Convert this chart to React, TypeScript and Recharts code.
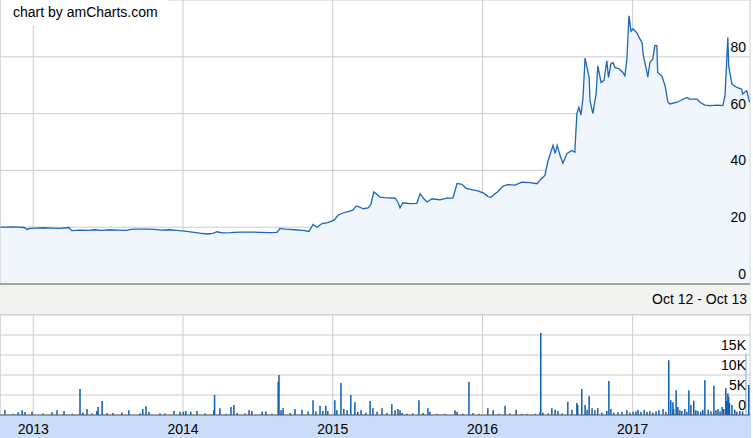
import React from 'react';
import { AreaChart, Area, BarChart, Bar, XAxis, YAxis, CartesianGrid, ReferenceLine } from 'recharts';

const rangeStart = '2012-10-12';
const rangeEnd = '2017-10-14';
const rangeLabel = 'Oct 12 - Oct 13';
const creditText = 'chart by amCharts.com';
const yearTickDates = ['2013-01-01', '2014-01-01', '2015-01-01', '2016-01-01', '2017-01-01'];
const yearTickLabels = ['2013', '2014', '2015', '2016', '2017'];
const priceTicks = [0, 20, 40, 60, 80];
const volumeTicks = [0, 5000, 10000, 15000, 20000];
const volumeTickLabels = ['0', '5K', '10K', '15K', ''];

const priceDates = [
  '2012-10-12', '2012-10-26', '2012-11-10', '2012-11-25', '2012-12-10', '2012-12-17', '2012-12-24',
  '2013-01-08', '2013-01-25', '2013-02-15', '2013-03-07', '2013-03-24', '2013-03-29', '2013-04-05',
  '2013-04-24', '2013-05-14', '2013-05-31', '2013-06-17', '2013-07-06', '2013-07-26', '2013-08-14',
  '2013-09-01', '2013-09-30', '2013-10-24', '2013-11-10', '2013-11-29', '2013-12-16',
  '2014-01-06', '2014-01-23', '2014-02-11', '2014-02-28', '2014-03-15', '2014-03-25', '2014-04-06',
  '2014-04-26', '2014-05-20', '2014-06-13', '2014-07-08', '2014-08-01', '2014-08-18', '2014-08-25',
  '2014-09-07', '2014-10-01', '2014-10-25', '2014-11-04', '2014-11-14', '2014-11-24', '2014-12-06',
  '2014-12-20',
  '2015-01-04', '2015-01-14', '2015-01-26', '2015-02-07', '2015-02-19', '2015-02-27', '2015-03-06',
  '2015-03-16', '2015-03-28', '2015-04-04', '2015-04-11', '2015-04-19', '2015-04-26', '2015-05-08',
  '2015-06-02', '2015-06-09', '2015-06-14', '2015-06-21', '2015-07-08', '2015-07-25', '2015-08-02',
  '2015-08-11', '2015-08-19', '2015-08-31', '2015-09-19', '2015-10-06', '2015-10-21', '2015-10-31',
  '2015-11-12', '2015-11-22', '2015-12-06', '2015-12-21',
  '2016-01-05', '2016-01-14', '2016-01-22', '2016-01-29', '2016-02-08', '2016-02-20', '2016-03-03',
  '2016-03-20', '2016-04-06', '2016-04-26', '2016-05-13', '2016-05-23', '2016-06-01', '2016-06-09',
  '2016-06-21', '2016-06-26', '2016-07-01', '2016-07-08', '2016-07-15', '2016-07-25', '2016-08-06',
  '2016-08-13', '2016-08-18', '2016-08-23', '2016-08-28', '2016-09-02', '2016-09-07', '2016-09-12',
  '2016-09-17', '2016-09-19', '2016-09-26', '2016-10-04', '2016-10-08', '2016-10-16', '2016-10-23',
  '2016-10-30', '2016-11-03', '2016-11-09', '2016-11-14', '2016-11-19', '2016-11-29', '2016-12-08',
  '2016-12-13', '2016-12-18', '2016-12-23', '2016-12-28',
  '2017-01-02', '2017-01-11', '2017-01-19', '2017-01-24', '2017-01-27', '2017-02-05', '2017-02-07',
  '2017-02-12', '2017-02-19', '2017-02-24', '2017-03-01', '2017-03-03', '2017-03-13', '2017-03-21',
  '2017-03-28', '2017-04-02', '2017-04-19', '2017-05-13', '2017-05-20', '2017-06-07', '2017-06-14',
  '2017-06-26', '2017-07-08', '2017-07-28', '2017-08-09', '2017-08-14', '2017-08-21', '2017-08-23',
  '2017-08-31', '2017-09-12', '2017-09-24', '2017-09-26', '2017-10-06', '2017-10-13',
];
const priceValues = [
  20.0, 20.0, 20.1, 20.0, 19.9, 19.2, 19.6,
  19.7, 19.8, 19.7, 19.6, 19.8, 19.9, 18.8,
  19.0, 18.9, 19.1, 18.9, 19.1, 19.0, 18.9,
  19.3, 19.3, 19.2, 19.0, 19.1, 18.9,
  18.6, 18.3, 17.9, 17.6, 17.8, 18.4, 18.0,
  18.1, 18.3, 18.3, 18.2, 18.1, 18.2, 19.6,
  19.3, 19.1, 18.8, 18.5, 21.0, 20.0, 21.3,
  21.6,
  22.5, 24.2, 25.0, 25.5, 26.0, 27.5, 27.2,
  26.5, 26.8, 28.0, 32.4, 31.5, 30.6, 30.4,
  30.2, 28.8, 26.8, 28.6, 28.3, 28.4, 31.8,
  30.0, 28.9, 30.0, 29.6, 30.2, 30.3, 35.4,
  35.1, 33.7, 33.2, 32.8,
  31.9, 30.8, 30.5, 31.5, 32.6, 34.5, 35.0,
  34.8, 35.9, 35.7, 35.3, 37.0, 38.2, 43.5,
  48.8, 46.0, 48.8, 45.3, 42.5, 46.0, 47.0,
  46.4, 60.0, 62.2, 59.5, 65.6, 79.6, 76.1,
  72.6, 64.6, 60.0, 67.0, 76.8, 71.0, 71.6,
  78.6, 72.7, 77.5, 78.0, 76.2, 75.8, 74.5,
  73.3, 79.3, 94.4, 89.0,
  89.8, 88.5, 86.2, 85.0, 80.4, 74.5, 72.8,
  78.0, 79.2, 83.9, 83.9, 74.5, 73.3, 69.8,
  64.0, 63.4, 64.0, 65.7, 65.1, 65.1, 64.0,
  63.0, 62.8, 63.0, 62.8, 66.3, 86.8, 76.8,
  70.4, 69.2, 68.6, 66.9, 68.1, 64.0,
];

const volumeDates = [
  '2012-10-24', '2012-11-13', '2012-11-25', '2012-12-05', '2012-12-12', '2012-12-29',
  '2013-01-25', '2013-02-16', '2013-02-28', '2013-03-17', '2013-04-06', '2013-04-25', '2013-05-02',
  '2013-05-12', '2013-05-24', '2013-06-05', '2013-06-08', '2013-06-18', '2013-06-30', '2013-07-14',
  '2013-08-05', '2013-08-22', '2013-09-18', '2013-09-25', '2013-10-03', '2013-10-10', '2013-11-06',
  '2013-11-18', '2013-12-10', '2013-12-25',
  '2014-01-02', '2014-01-08', '2014-01-20', '2014-02-04', '2014-02-24', '2014-03-17', '2014-03-19',
  '2014-04-01', '2014-04-16', '2014-04-28', '2014-05-05', '2014-05-13', '2014-06-01', '2014-06-11',
  '2014-06-18', '2014-07-13', '2014-07-22', '2014-08-06', '2014-08-21', '2014-08-23', '2014-08-28',
  '2014-09-02', '2014-09-19', '2014-10-01', '2014-10-18', '2014-11-02', '2014-11-14', '2014-11-21',
  '2014-12-01', '2014-12-08', '2014-12-15', '2014-12-20',
  '2015-01-06', '2015-01-11', '2015-01-21', '2015-01-28', '2015-02-05', '2015-02-14', '2015-02-24',
  '2015-03-03', '2015-03-11', '2015-03-23', '2015-04-02', '2015-04-09', '2015-04-19', '2015-05-01',
  '2015-05-13', '2015-05-25', '2015-06-02', '2015-06-09', '2015-06-14', '2015-06-19', '2015-07-01',
  '2015-07-15', '2015-07-30', '2015-08-09', '2015-08-21', '2015-08-26', '2015-09-12', '2015-10-01',
  '2015-10-26', '2015-10-31', '2015-11-14', '2015-11-29', '2015-12-09', '2015-12-24',
  '2016-01-14', '2016-01-27', '2016-02-10', '2016-02-25', '2016-03-08', '2016-03-23', '2016-04-06',
  '2016-04-18', '2016-05-08', '2016-05-20', '2016-05-22', '2016-05-27', '2016-06-09', '2016-06-18',
  '2016-06-26', '2016-07-03', '2016-07-13', '2016-07-27', '2016-08-06', '2016-08-18', '2016-08-20',
  '2016-08-30', '2016-09-07', '2016-09-12', '2016-09-17', '2016-09-24', '2016-10-01', '2016-10-08',
  '2016-10-18', '2016-10-30', '2016-11-04', '2016-11-09', '2016-11-16', '2016-11-26', '2016-12-06',
  '2016-12-18', '2016-12-25',
  '2017-01-02', '2017-01-09', '2017-01-14', '2017-01-21', '2017-01-29', '2017-02-05', '2017-02-12',
  '2017-02-19', '2017-02-27', '2017-03-06', '2017-03-16', '2017-03-23', '2017-03-30', '2017-04-04',
  '2017-04-09', '2017-04-11', '2017-04-17', '2017-04-21', '2017-04-26', '2017-05-01', '2017-05-08',
  '2017-05-13', '2017-05-18', '2017-05-23', '2017-05-30', '2017-06-04', '2017-06-09', '2017-06-16',
  '2017-06-21', '2017-06-26', '2017-07-04', '2017-07-11', '2017-07-18', '2017-07-23', '2017-07-28',
  '2017-08-02', '2017-08-07', '2017-08-11', '2017-08-16', '2017-08-18', '2017-08-21', '2017-08-23',
  '2017-08-25', '2017-08-31', '2017-09-07', '2017-09-12', '2017-09-19', '2017-09-26', '2017-10-04',
  '2017-10-11',
];
const volumeValues = [
  1250, 300, 700, 1200, 750, 800,
  400, 700, 1200, 1000, 300, 6500, 600,
  1500, 400, 1000, 2000, 3500, 500, 500,
  600, 1200, 400, 1500, 2200, 800, 400,
  400, 1000, 800,
  800, 1000, 800, 1000, 400, 1200, 5000,
  1700, 300, 2000, 2500, 500, 400, 1200,
  1000, 900, 900, 300, 8300, 10000, 1200,
  1700, 500, 1500, 1300, 900, 3700, 900,
  2300, 1000, 2300, 1000,
  3700, 1200, 8000, 1500, 1200, 5000, 3200,
  800, 1200, 600, 3500, 1700, 800, 1700,
  500, 2700, 1200, 1500, 1200, 500, 300,
  400, 3700, 500, 1700, 800, 300, 300,
  1200, 800, 300, 8300, 500, 300,
  1700, 1200, 300, 2300, 400, 1300, 300,
  300, 300, 600, 20500, 600, 400, 1700,
  1300, 1000, 400, 3300, 1300, 3000, 2500,
  6500, 2500, 1300, 4700, 1700, 1200, 1700,
  600, 1000, 8500, 1500, 600, 700, 800,
  1200, 600,
  800, 900, 1300, 800, 1300, 800, 1000,
  600, 900, 1200, 1500, 800, 13700, 3700,
  3200, 1500, 6200, 2000, 1200, 1000, 1500,
  800, 6200, 2500, 3600, 1200, 1000, 800,
  1300, 8700, 1300, 900, 7300, 1200, 1500,
  900, 2000, 1500, 6700, 3500, 5400, 4600,
  3000, 2500, 1300, 800, 1000, 900, 15300,
  7500,
];
const volumeLightDates = ['2017-10-04'];

const toTime = (s: string) => {
  const [y, m, d] = s.split('-').map(Number);
  return Date.UTC(y, m - 1, d);
};

const xDomain = [toTime(rangeStart), toTime(rangeEnd)];
const yearTicks = yearTickDates.map(toTime);

const priceData = priceDates.map((d, i) => ({ t: toTime(d), price: priceValues[i] }));
const volumeData = volumeDates.map((d, i) => ({
  t: toTime(d),
  volume: volumeValues[i],
  light: volumeLightDates.includes(d),
}));

const FONT = '"Liberation Sans", Arial, sans-serif';
const BAR_W = 1.5;

const PriceTick = (props: any) => {
  const { y, payload } = props;
  return (
    <text x={746} y={y - 5} textAnchor="end" fontSize={14} fill="#000" fontFamily={FONT}>
      {payload.value}
    </text>
  );
};

const VolumeTick = (props: any) => {
  const { y, payload } = props;
  const idx = volumeTicks.indexOf(payload.value);
  return (
    <text x={746} y={y - 5} textAnchor="end" fontSize={14} fill="#000" fontFamily={FONT}>
      {volumeTickLabels[idx]}
    </text>
  );
};

const YearTick = (props: any) => {
  const { x, y, payload } = props;
  const idx = yearTicks.indexOf(payload.value);
  return (
    <text x={x} y={y + 19} textAnchor="middle" fontSize={14} fill="#000" fontFamily={FONT}>
      {yearTickLabels[idx]}
    </text>
  );
};

const VolumeBar = (props: any) => {
  const { x, y, width, height, payload } = props;
  if (!height || height <= 0) return null;
  const cx = x + width / 2;
  return (
    <rect
      x={cx - BAR_W / 2}
      y={y}
      width={BAR_W}
      height={height}
      fill={payload && payload.light ? '#9cc0e8' : '#0b5fb3'}
    />
  );
};

export default function App() {
  return (
    <div
      style={{
        position: 'absolute',
        left: 0,
        top: 0,
        width: 753,
        height: 438,
        background: '#fff',
        fontFamily: FONT,
        overflow: 'hidden',
      }}
    >
      <div style={{ position: 'absolute', left: 0, top: 0 }}>
        <AreaChart width={753} height={285} data={priceData} margin={{ top: 0, right: 3, bottom: 1, left: 0 }}>
          <CartesianGrid stroke="#cccccc" strokeWidth={1} />
          <XAxis
            type="number"
            dataKey="t"
            domain={xDomain}
            ticks={yearTicks}
            interval={0}
            allowDataOverflow
            hide
          />
          <YAxis
            orientation="right"
            mirror
            width={40}
            domain={[0, 100]}
            ticks={priceTicks}
            interval={0}
            axisLine={false}
            tickLine={false}
            tick={PriceTick}
          />
          <ReferenceLine x={xDomain[0]} stroke="#cccccc" />
          <Area
            type="linear"
            dataKey="price"
            stroke="#1767bd"
            strokeWidth={1.3}
            fill="#f1f6fc"
            fillOpacity={1}
            isAnimationActive={false}
            dot={false}
            activeDot={false}
          />
          <ReferenceLine y={0} stroke="#5a5a5a" strokeWidth={1.2} />
        </AreaChart>
      </div>

      <div
        style={{
          position: 'absolute',
          left: 2,
          top: 0,
          width: 165,
          height: 25,
          background: '#fff',
        }}
      >
        <div style={{ position: 'absolute', left: 11, top: 4, fontSize: 14, lineHeight: '16px', color: '#000', whiteSpace: 'nowrap' }}>
          {creditText}
        </div>
      </div>

      <div
        style={{
          position: 'absolute',
          left: 0,
          top: 285,
          width: 751,
          height: 29,
          background: '#f3f3f1',
          borderBottom: '1px solid #d2d2d2',
        }}
      >
        <div
          style={{
            position: 'absolute',
            right: 4,
            top: 6,
            fontSize: 14,
            lineHeight: '16px',
            color: '#000',
            whiteSpace: 'nowrap',
          }}
        >
          {rangeLabel}
        </div>
      </div>

      <div
        style={{
          position: 'absolute',
          left: 0,
          top: 415,
          width: 751,
          height: 23,
          background: '#c9dcf8',
        }}
      />

      <div style={{ position: 'absolute', left: 0, top: 315 }}>
        <BarChart width={753} height={123} data={volumeData} margin={{ top: 0, right: 3, bottom: 0, left: 0 }}>
          <CartesianGrid stroke="#cccccc" strokeWidth={1} />
          <XAxis
            type="number"
            dataKey="t"
            domain={xDomain}
            ticks={yearTicks}
            interval={0}
            allowDataOverflow
            height={23}
            tickSize={0}
            tickMargin={0}
            tickLine={false}
            axisLine={{ stroke: '#5a5a5a', strokeWidth: 1.2 }}
            tick={YearTick}
          />
          <YAxis
            orientation="right"
            mirror
            width={40}
            domain={[0, 25000]}
            ticks={volumeTicks}
            interval={0}
            axisLine={false}
            tickLine={false}
            tick={VolumeTick}
          />
          <ReferenceLine x={xDomain[0]} stroke="#cccccc" />
          <Bar dataKey="volume" fill="#0b5fb3" shape={VolumeBar} isAnimationActive={false} />
        </BarChart>
      </div>
    </div>
  );
}
